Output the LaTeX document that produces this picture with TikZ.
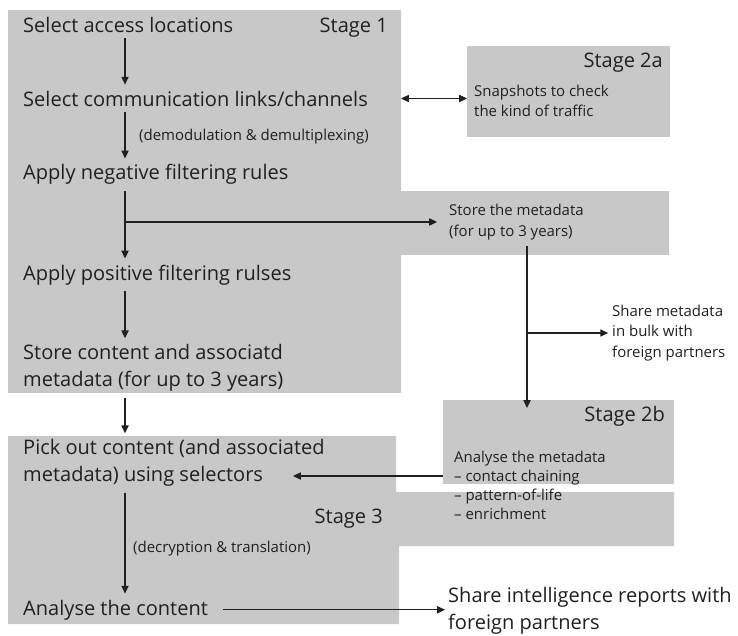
\documentclass[tikz,border=0pt]{standalone}
\usepackage{fontspec}
\setmainfont{Open Sans}
\usetikzlibrary{arrows.meta}
\definecolor{stagegrey}{RGB}{200,200,200}
\definecolor{inkdark}{RGB}{35,31,32}
\tikzset{
  mainstep/.style={anchor=base west, inner xsep=0pt, inner ysep=0.2cm, align=left, text=inkdark,
    font=\fontsize{19}{25.6}\selectfont},
  sidestep/.style={anchor=west, inner sep=0pt, align=left, text=inkdark,
    font=\fontsize{14.2}{19.5}\selectfont},
  stagelabel/.style={anchor=base east, inner sep=0pt, text=inkdark,
    font=\fontsize{19}{22}\selectfont},
  stagebox/.style={fill=stagegrey, draw=none, inner sep=0pt, anchor=north west},
  flow/.style={-{Triangle[length=2.6mm,width=2.4mm]}, line width=1pt, draw=inkdark},
  twoway/.style={flow, {Triangle[length=2.6mm,width=2.4mm]}-{Triangle[length=2.6mm,width=2.4mm]}},
}
\begin{document}
\begin{tikzpicture}
  \useasboundingbox (0,0) rectangle (24.6,21.167);
  % Stage 1 area with the metadata band
  \fill[stagegrey] (0.267,20.833) -- (13.367,20.833) -- (13.367,14.8) -- (22.3,14.8)
    -- (22.3,12.667) -- (13.367,12.667) -- (13.367,8.067) -- (0.267,8.067) -- cycle;
  % Stage 3 area with its band
  \fill[stagegrey] (0.267,6.633) -- (13.2,6.633) -- (13.2,4.767) -- (22.467,4.767)
    -- (22.467,2.967) -- (13.3,2.967) -- (13.3,0.367) -- (0.267,0.367) -- cycle;
  % Stage 2a and 2b boxes
  \node[stagebox, minimum width=6.767cm, minimum height=3.033cm] (s2a) at (15.567,19.633) {};
  \node[stagebox, minimum width=7.7cm, minimum height=2.8cm] (s2b) at (14.767,7.833) {};
  \coordinate (spine) at (4.167,0);
  \coordinate (s1r) at (13.367,0);
  \coordinate (meta_in) at (17.567,7.567);
  \coordinate (sel_to) at (9.767,5.3);
  % Stage labels
  \node[stagelabel] (lab1) at (12.933,20.1) {Stage 1};
  \node[stagelabel] (lab2a) at (22.1,18.933) {Stage 2a};
  \node[stagelabel] (lab2b) at (22.167,7.133) {Stage 2b};
  \node[stagelabel] (lab3) at (12.767,3.733) {Stage 3};
  % Main steps
  \node[mainstep] (sel_loc) at (0.767,20.1) {Select access locations};
  \node[mainstep] (sel_links) at (0.767,17.633) {Select communication links/channels};
  \node[sidestep] (demod) at (4.633,16.6) {(demodulation \& demultiplexing)};
  \node[mainstep] (neg_filter) at (0.767,15.167) {Apply negative filtering rules};
  \node[mainstep] (pos_filter) at (0.767,11.833) {Apply positive filtering rulses};
  \node[mainstep, anchor=west] (store_content) at (0.767,8.9) {Store content and associatd\\metadata (for up to 3 years)};
  \node[mainstep, anchor=west] (pick_out) at (0.767,5.733) {Pick out content (and associated\\metadata) using selectors};
  \node[sidestep] (decrypt) at (4.433,2.867) {(decryption \& translation)};
  \node[mainstep] (analyse_content) at (0.767,0.667) {Analyse the content};
  \node[mainstep, anchor=west] (share_intel) at (14.933,0.8) {Share intelligence reports with\\foreign partners};
  % Side steps
  \node[sidestep] (snapshots) at (15.8,17.8) {Snapshots to check\\the kind of traffic};
  \node[sidestep] (store_meta) at (14.967,13.767) {Store the metadata\\(for up to 3 years)};
  \node[sidestep] (share_bulk) at (20.4,10.067) {Share metadata\\in bulk with\\foreign partners};
  \node[sidestep, font=\fontsize{14.2}{18}\selectfont] (analyse_meta) at (15.133,4.983)
    {Analyse the metadata\\– contact chaining\\– pattern-of-life\\– enrichment};
  % Stage 1 flow
  \draw[flow] (sel_loc.south -| spine) -- (sel_links.north -| spine);
  \draw[flow] (sel_links.south -| spine) -- (neg_filter.north -| spine);
  \draw[flow] (neg_filter.south -| spine) -- (pos_filter.north -| spine);
  \draw[flow] (pos_filter.south -| spine) -- (store_content.north -| spine);
  \draw[flow] (store_content.south -| spine) -- (pick_out.north -| spine);
  \draw[flow] (pick_out.south -| spine) -- (analyse_content.north -| spine);
  % Stage 2 links
  \draw[twoway] (sel_links.east -| s1r) -- (sel_links.east -| s2a.west);
  \draw[flow, shorten >=0.4cm] (spine |- store_meta.west) -- (store_meta.west);
  \draw[flow, shorten <=0.2cm] (store_meta.south -| meta_in) -- (meta_in);
  \draw[flow, shorten >=0.13cm] (meta_in |- share_bulk.west) -- (share_bulk.west);
  \draw[flow] (s2b.west |- sel_to) -- (sel_to);
  % Stage 3 output
  \draw[flow, shorten <=0.5cm, shorten >=0.1cm] (analyse_content.east) -- (analyse_content.east -| share_intel.west);
\end{tikzpicture}
\end{document}
